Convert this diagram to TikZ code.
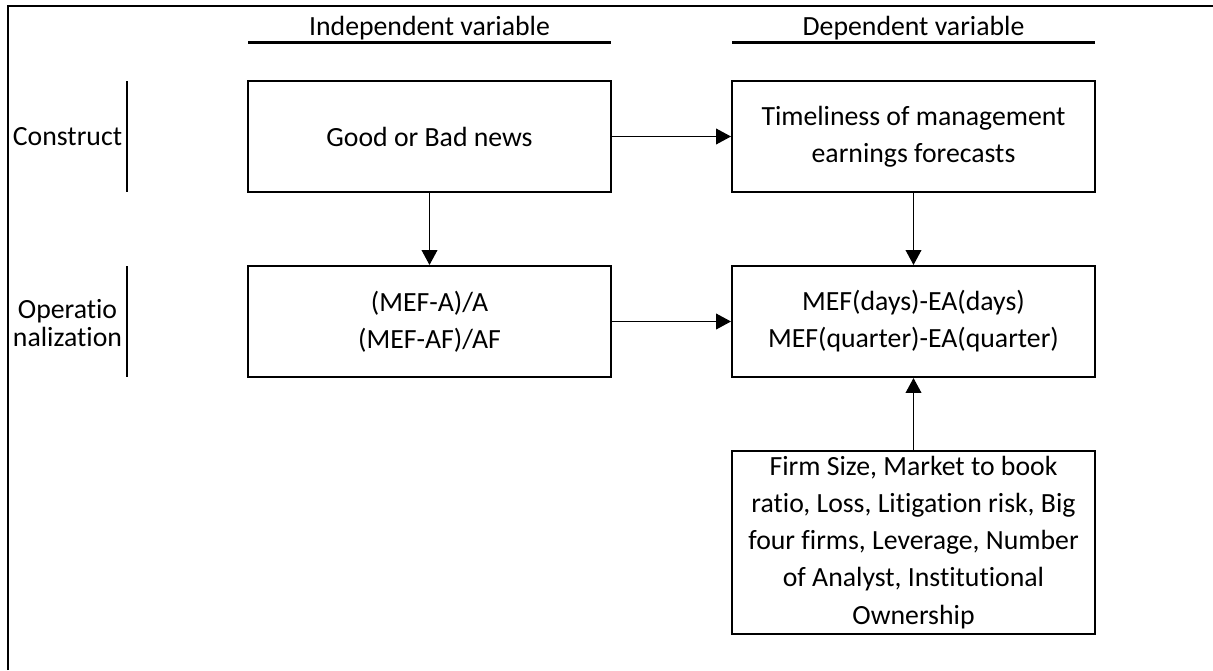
\documentclass[tikz,border=0pt]{standalone}
\usepackage{fontspec}
\setmainfont{Carlito}[Ligatures={NoCommon}]
\usetikzlibrary{arrows.meta}
\newcommand{\boxfont}{\fontsize{15.8}{21.1}\selectfont}
\newcommand{\sidefont}{\fontsize{15.8}{15.9}\selectfont}
\tikzset{
  box/.style={draw,line width=1.2pt,minimum width=7.26cm,minimum height=2.22cm,align=center,inner sep=2pt,font=\boxfont},
  tallbox/.style={box,minimum height=3.66cm},
  arr/.style={-{Triangle[length=8.5pt,width=9pt]},line width=0.6pt},
  bar/.style={line width=1.5pt},
  side/.style={align=center,inner sep=0pt,font=\sidefont}
}

\begin{document}
\begin{tikzpicture}[x=0.02cm,y=-0.02cm]
\useasboundingbox (0,0) rectangle (1213,670);
\draw[line width=0.9pt] (8,670) -- (8,6) -- (1213,6);
\node[anchor=base,font=\boxfont] (ivhead) at (429.5,35) {Independent variable};
\node[anchor=base,font=\boxfont] (dvhead) at (913.5,35) {Dependent variable};
\draw[bar] (248,42.5) -- (611,42.5);
\draw[bar] (732,42.5) -- (1095,42.5);
\node[side] (construct) at (67.5,136.5) {Construct};
\node[side] (operat) at (67.5,323) {Operatio\\nalization};
\draw[bar] (127,81) -- (127,192);
\draw[bar] (127,266) -- (127,377);
\node[box] (goodbad) at (429.5,136.5) {Good or Bad news};
\node[box] (timeliness) at (913.5,136.5) {Timeliness of management\\earnings forecasts};
\node[box] (mefa) at (429.5,321.5) {(MEF-A)/A\\(MEF-AF)/AF};
\node[box] (mefdays) at (913.5,321.5) {MEF(days)-EA(days)\\MEF(quarter)-EA(quarter)};
\node[tallbox] (controls) at (913.5,542.5) {Firm Size, Market to book\\ratio, Loss, Litigation risk, Big\\four firms, Leverage, Number\\of Analyst, Institutional\\Ownership};
\draw[arr] (goodbad) -- (timeliness);
\draw[arr] (goodbad) -- (mefa);
\draw[arr] (timeliness) -- (mefdays);
\draw[arr] (mefa) -- (mefdays);
\draw[arr] (controls) -- (mefdays);
\end{tikzpicture}
\end{document}
